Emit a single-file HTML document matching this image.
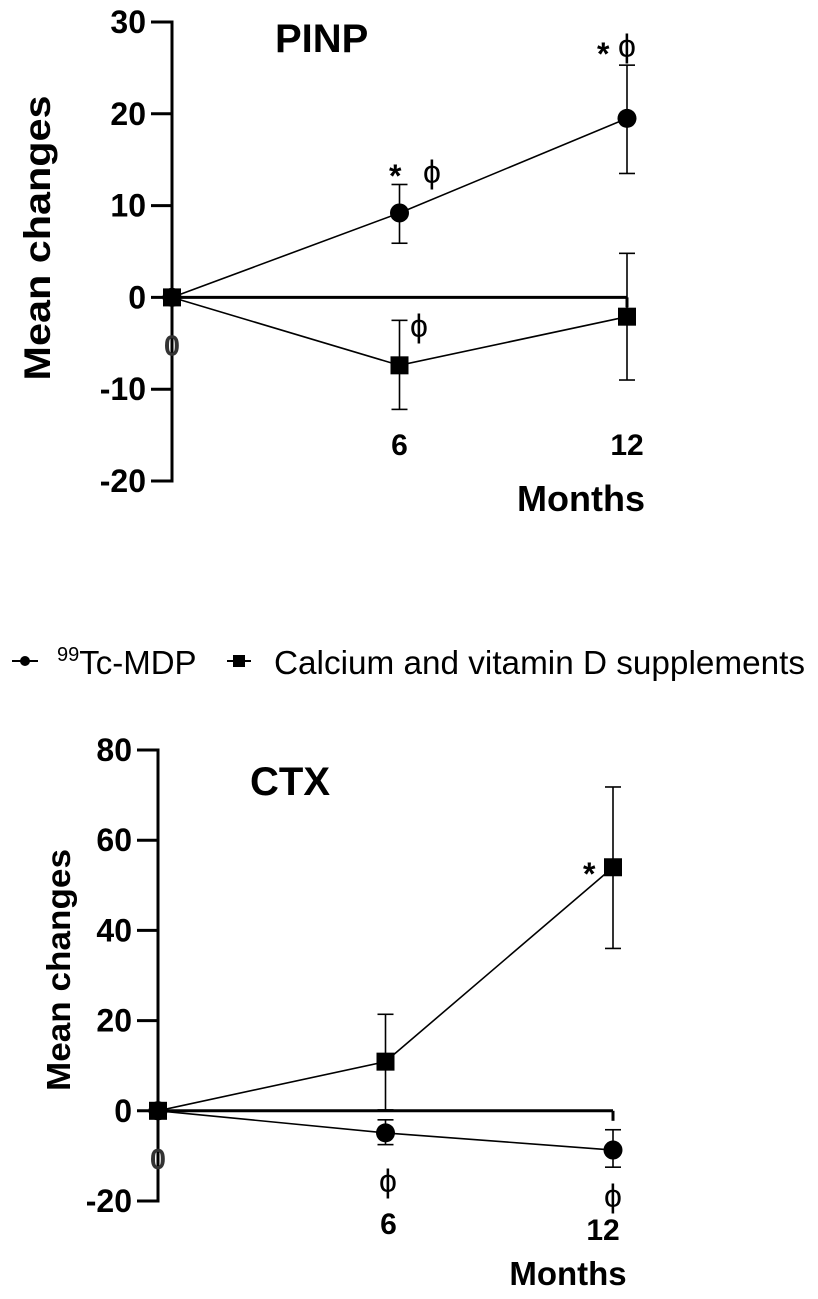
<!DOCTYPE html>
<html><head><meta charset="utf-8">
<style>
html,body{margin:0;padding:0;background:#fff;}
svg{display:block;font-family:"Liberation Sans",Arial,sans-serif;}
</style></head>
<body>
<svg id="svg" width="818" height="1299" viewBox="0 0 818 1299">
<g id="top"></g>
<g id="bot"></g>
<g>
  <line x1="12" y1="661" x2="38" y2="661" stroke="#000" stroke-width="2"/>
  <circle cx="25" cy="661" r="5" fill="#000"/>
  <text x="57" y="674" style="font-size:33px"><tspan style="font-size:20px" dy="-13">99</tspan><tspan dy="13">Tc-MDP</tspan></text>
  <line x1="227" y1="661" x2="251" y2="661" stroke="#000" stroke-width="2"/>
  <rect x="233" y="655" width="12" height="12" fill="#000"/>
  <text x="274" y="674" style="font-size:33px" textLength="531" lengthAdjust="spacingAndGlyphs">Calcium and vitamin D supplements</text>
</g>
</svg>
<script>
const NS="http://www.w3.org/2000/svg";
// PINP data
const months=[0,6,12];
const pinpTcMean=[0,9.2,19.5];
const pinpTcLo=[0,5.9,13.5];
const pinpTcHi=[0,12.3,25.3];
const pinpCaMean=[0,-7.4,-2.1];
const pinpCaLo=[0,-12.2,-9.0];
const pinpCaHi=[0,-2.5,4.8];
const pinpTicks=[30,20,10,0,-10,-20];
// CTX data
const ctxTcMean=[0,-4.9,-8.7];
const ctxTcLo=[0,-7.5,-12.5];
const ctxTcHi=[0,-2.0,-4.2];
const ctxCaMean=[0,10.9,54];
const ctxCaLo=[0,0.2,36];
const ctxCaHi=[0,21.4,71.8];
const ctxTicks=[80,60,40,20,0,-20];
const xTickLabels=["6","12"];

function el(p,tag,attrs,name,txt){
  const e=document.createElementNS(NS,tag);
  for(const k in attrs)e.setAttribute(k,attrs[k]);
  
  
  if(txt!==undefined)e.textContent=txt;
  p.appendChild(e);return e;
}
function chart(g,cfg){
  const X=v=>cfg.x0+(cfg.x12-cfg.x0)*v/12;
  const Y=v=>cfg.yTop+(cfg.yMax-v)*(cfg.yBot-cfg.yTop)/(cfg.yMax-cfg.yMin);
  const B='font-weight:bold;font-size:';
  el(g,'line',{x1:cfg.x0,y1:Y(cfg.yMax)-1.5,x2:cfg.x0,y2:Y(cfg.yMin)+1.5,stroke:'#000','stroke-width':3},'y-axis');
  cfg.ticks.forEach(t=>{
    el(g,'line',{x1:cfg.x0-21,y1:Y(t),x2:cfg.x0,y2:Y(t),stroke:'#000','stroke-width':3},'y-tick');
    el(g,'text',{x:cfg.x0-26,y:Y(t)+11,'text-anchor':'end',style:B+'32px'},'y-tick-label',String(t));
  });
  el(g,'line',{x1:cfg.x0,y1:Y(0),x2:X(12),y2:Y(0),stroke:'#000','stroke-width':3},'x-axis');
  el(g,'line',{x1:X(12),y1:Y(0),x2:X(12),y2:Y(0)+10,stroke:'#000','stroke-width':3},'x-tick');
  el(g,'text',{x:cfg.x0,y:Y(0)+58,'text-anchor':'middle',style:B+'29px',fill:'#333'},'x-tick-label-0','0');
  [6,12].forEach((m,i)=>el(g,'text',{x:X(m)+cfg.xLabDx[i],y:cfg.xLabY[i],'text-anchor':'middle',style:B+'30px'},'x-tick-label',xTickLabels[i]));
  el(g,'text',{x:cfg.monthsX,y:cfg.monthsY,'text-anchor':'middle',style:B+cfg.monthsFs+'px'},'x-axis-title','Months');
  el(g,'text',{x:cfg.ylabX,y:cfg.ylabY,'text-anchor':'middle',style:B+cfg.ylabFs+'px',textLength:cfg.ylabLen,lengthAdjust:'spacingAndGlyphs',transform:`rotate(-90 ${cfg.ylabX} ${cfg.ylabY})`},'y-axis-title','Mean changes');
  el(g,'text',{x:cfg.titleX,y:cfg.titleY,style:B+'40px'},'chart-title',cfg.title);
  cfg.series.forEach(s=>{
    const pts=months.map((m,i)=>X(m)+','+Y(s.mean[i])).join(' ');
    el(g,'polyline',{points:pts,fill:'none',stroke:'#000','stroke-width':1.6},'series-line-'+s.name);
    months.forEach((m,i)=>{
      if(i>0){
        el(g,'line',{x1:X(m),y1:Y(s.lo[i]),x2:X(m),y2:Y(s.hi[i]),stroke:'#000','stroke-width':1.6},'error-bar');
        [s.lo[i],s.hi[i]].forEach(v=>el(g,'line',{x1:X(m)-8,y1:Y(v),x2:X(m)+8,y2:Y(v),stroke:'#000','stroke-width':1.6},'error-cap'));
      }
      if(s.shape==='c')el(g,'circle',{cx:X(m),cy:Y(s.mean[i]),r:9.5,fill:'#000'},'point-'+s.name);
      else el(g,'rect',{x:X(m)-9,y:Y(s.mean[i])-9,width:18,height:18,fill:'#000'},'point-'+s.name);
    });
  });
  cfg.ann.forEach(a=>el(g,'text',{x:a[0],y:a[1],style:(a[2]==='*'?'font-weight:bold;':'')+'font-size:32px'},'significance-mark',a[2]));
}
chart(document.getElementById('top'),{x0:172,x12:627,yTop:22,yBot:481,yMax:30,yMin:-20,ticks:pinpTicks,
  xLabY:[455,455],xLabDx:[0,0],monthsX:581,monthsY:511,monthsFs:36,ylabX:50,ylabY:238,ylabFs:37,ylabLen:285,titleX:275,titleY:52,title:'PINP',
  series:[{name:'tc-mdp',shape:'c',mean:pinpTcMean,lo:pinpTcLo,hi:pinpTcHi},{name:'calcium',shape:'s',mean:pinpCaMean,lo:pinpCaLo,hi:pinpCaHi}],
  ann:[[389,187,'*'],[423,183,'ϕ'],[597,65,'*'],[618,57,'ϕ'],[410,337,'ϕ']]});
chart(document.getElementById('bot'),{x0:158,x12:613,yTop:750,yBot:1201,yMax:80,yMin:-20,ticks:ctxTicks,
  xLabY:[1234,1240],xLabDx:[3,-10],monthsX:568,monthsY:1285,monthsFs:33,ylabX:70,ylabY:970,ylabFs:33,ylabLen:242,titleX:250,titleY:795,title:'CTX',
  series:[{name:'tc-mdp',shape:'c',mean:ctxTcMean,lo:ctxTcLo,hi:ctxTcHi},{name:'calcium',shape:'s',mean:ctxCaMean,lo:ctxCaLo,hi:ctxCaHi}],
  ann:[[583,885,'*'],[379,1192,'ϕ'],[604,1207,'ϕ']]});
</script>
</body></html>
